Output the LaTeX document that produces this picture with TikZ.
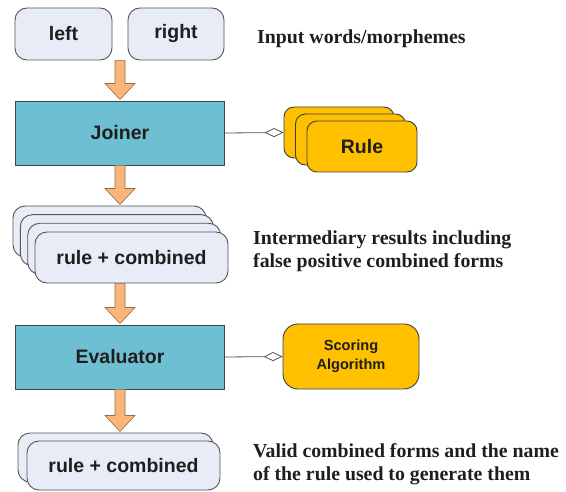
\documentclass[tikz,border=0pt]{standalone}
\usepackage{fontspec}
\setmainfont{Liberation Serif}
\newfontfamily\arialf{Liberation Sans}
\usetikzlibrary{arrows.meta,calc}
\definecolor{lightbox}{RGB}{231,236,247}
\definecolor{boxline}{RGB}{85,85,85}
\definecolor{tealbox}{RGB}{111,191,210}
\definecolor{amber}{RGB}{255,192,0}
\definecolor{arrowfill}{RGB}{249,181,122}
\definecolor{arrowline}{RGB}{150,110,70}
\definecolor{txt}{RGB}{30,30,30}
\tikzset{
  lbox/.style={draw=boxline, line width=0.9pt, fill=lightbox, rounded corners=12pt, inner sep=0pt,
     font=\arialf\bfseries\fontsize{19.5}{22}\selectfont, text=txt},
  tbox/.style={draw=boxline!80!black, line width=0.9pt, fill=tealbox, inner sep=0pt,
     minimum width=209pt, minimum height=64pt, font=\arialf\bfseries\fontsize{19.5}{22}\selectfont, text=txt},
  rbox/.style={draw=boxline!70!black, line width=0.9pt, fill=amber, rounded corners=10pt, inner sep=0pt,
     minimum width=110pt, minimum height=51pt, font=\arialf\bfseries\fontsize{19.5}{22}\selectfont, text=txt},
  sidetext/.style={anchor=base west, inner sep=0pt, text=txt, font=\bfseries\fontsize{19.8}{23}\selectfont},
  blockarrow/.style={fill=arrowfill, draw=arrowline, line width=0.6pt},
  assoc/.style={draw=boxline, line width=0.8pt, -{Diamond[open, length=19pt, width=9pt, line width=0.8pt]}},
}
\newcommand{\blockarr}[2]{%
  \draw[blockarrow] let \p1=(#1), \p2=(#2) in
    (\x2-5pt,\y1) -- (\x2+5pt,\y1) -- (\x2+5pt,\y2+1pt+16pt) -- (\x2+15pt,\y2+1pt+16pt)
    -- (\x2,\y2+1pt) -- (\x2-15pt,\y2+1pt+16pt) -- (\x2-5pt,\y2+1pt+16pt) -- cycle;}
\begin{document}
\begin{tikzpicture}[x=1pt,y=-1pt]
\useasboundingbox (0,0) rectangle (566,492);
% input
\node[lbox, minimum width=97pt, minimum height=52pt] (left) at (63.5,34) {left};
\node[lbox, minimum width=96pt, minimum height=52pt] (right) at (176,34) {right};
\node[sidetext] (t1) at (257,44) {Input words/morphemes};
% joiner
\node[tbox] (joiner) at (120,133) {Joiner};
\node[rbox] (rule1) at (339,132.5) {};
\node[rbox] (rule2) at (350.5,139.5) {};
\node[rbox] (rule3) at (362,146.5) {Rule};
\draw[assoc] (joiner.east) -- (rule1.west);
% intermediary
\node[lbox, minimum width=193pt, minimum height=51pt] (int1) at (109.5,231.5) {};
\node[lbox, minimum width=193pt, minimum height=51pt] (int2) at (116.8,240.2) {};
\node[lbox, minimum width=193pt, minimum height=51pt] (int3) at (124.2,248.8) {};
\node[lbox, minimum width=193pt, minimum height=51pt] (int4) at (131.5,257.5) {rule + combined};
\node[sidetext] (t2a) at (253,245) {Intermediary results including};
\node[sidetext] (t2b) at (253,268) {false positive combined forms};
% evaluator
\node[tbox] (eval) at (120,357) {Evaluator};
\node[draw=boxline!70!black, line width=0.9pt, fill=amber, rounded corners=15pt, inner sep=0pt,
   minimum width=136pt, minimum height=65pt, align=center, text=txt,
   font=\arialf\bfseries\fontsize{14.6}{19}\selectfont] (score) at (351,356.5) {Scoring\\Algorithm};
\draw[assoc] (eval.east) -- (score.west);
% output
\node[lbox, minimum width=195pt, minimum height=49pt] (out1) at (115.5,457.5) {};
\node[lbox, minimum width=193pt, minimum height=49pt] (out2) at (123.5,465.5) {rule + combined};
\node[sidetext] (t3a) at (253,457) {Valid combined forms and the name};
\node[sidetext] (t3b) at (253,480) {of the rule used to generate them};
% block arrows
\blockarr{left.south}{joiner.north}
\blockarr{joiner.south}{int1.north -| joiner.south}
\blockarr{int4.south}{eval.north}
\blockarr{eval.south}{out1.north -| eval.south}
\end{tikzpicture}
\end{document}
